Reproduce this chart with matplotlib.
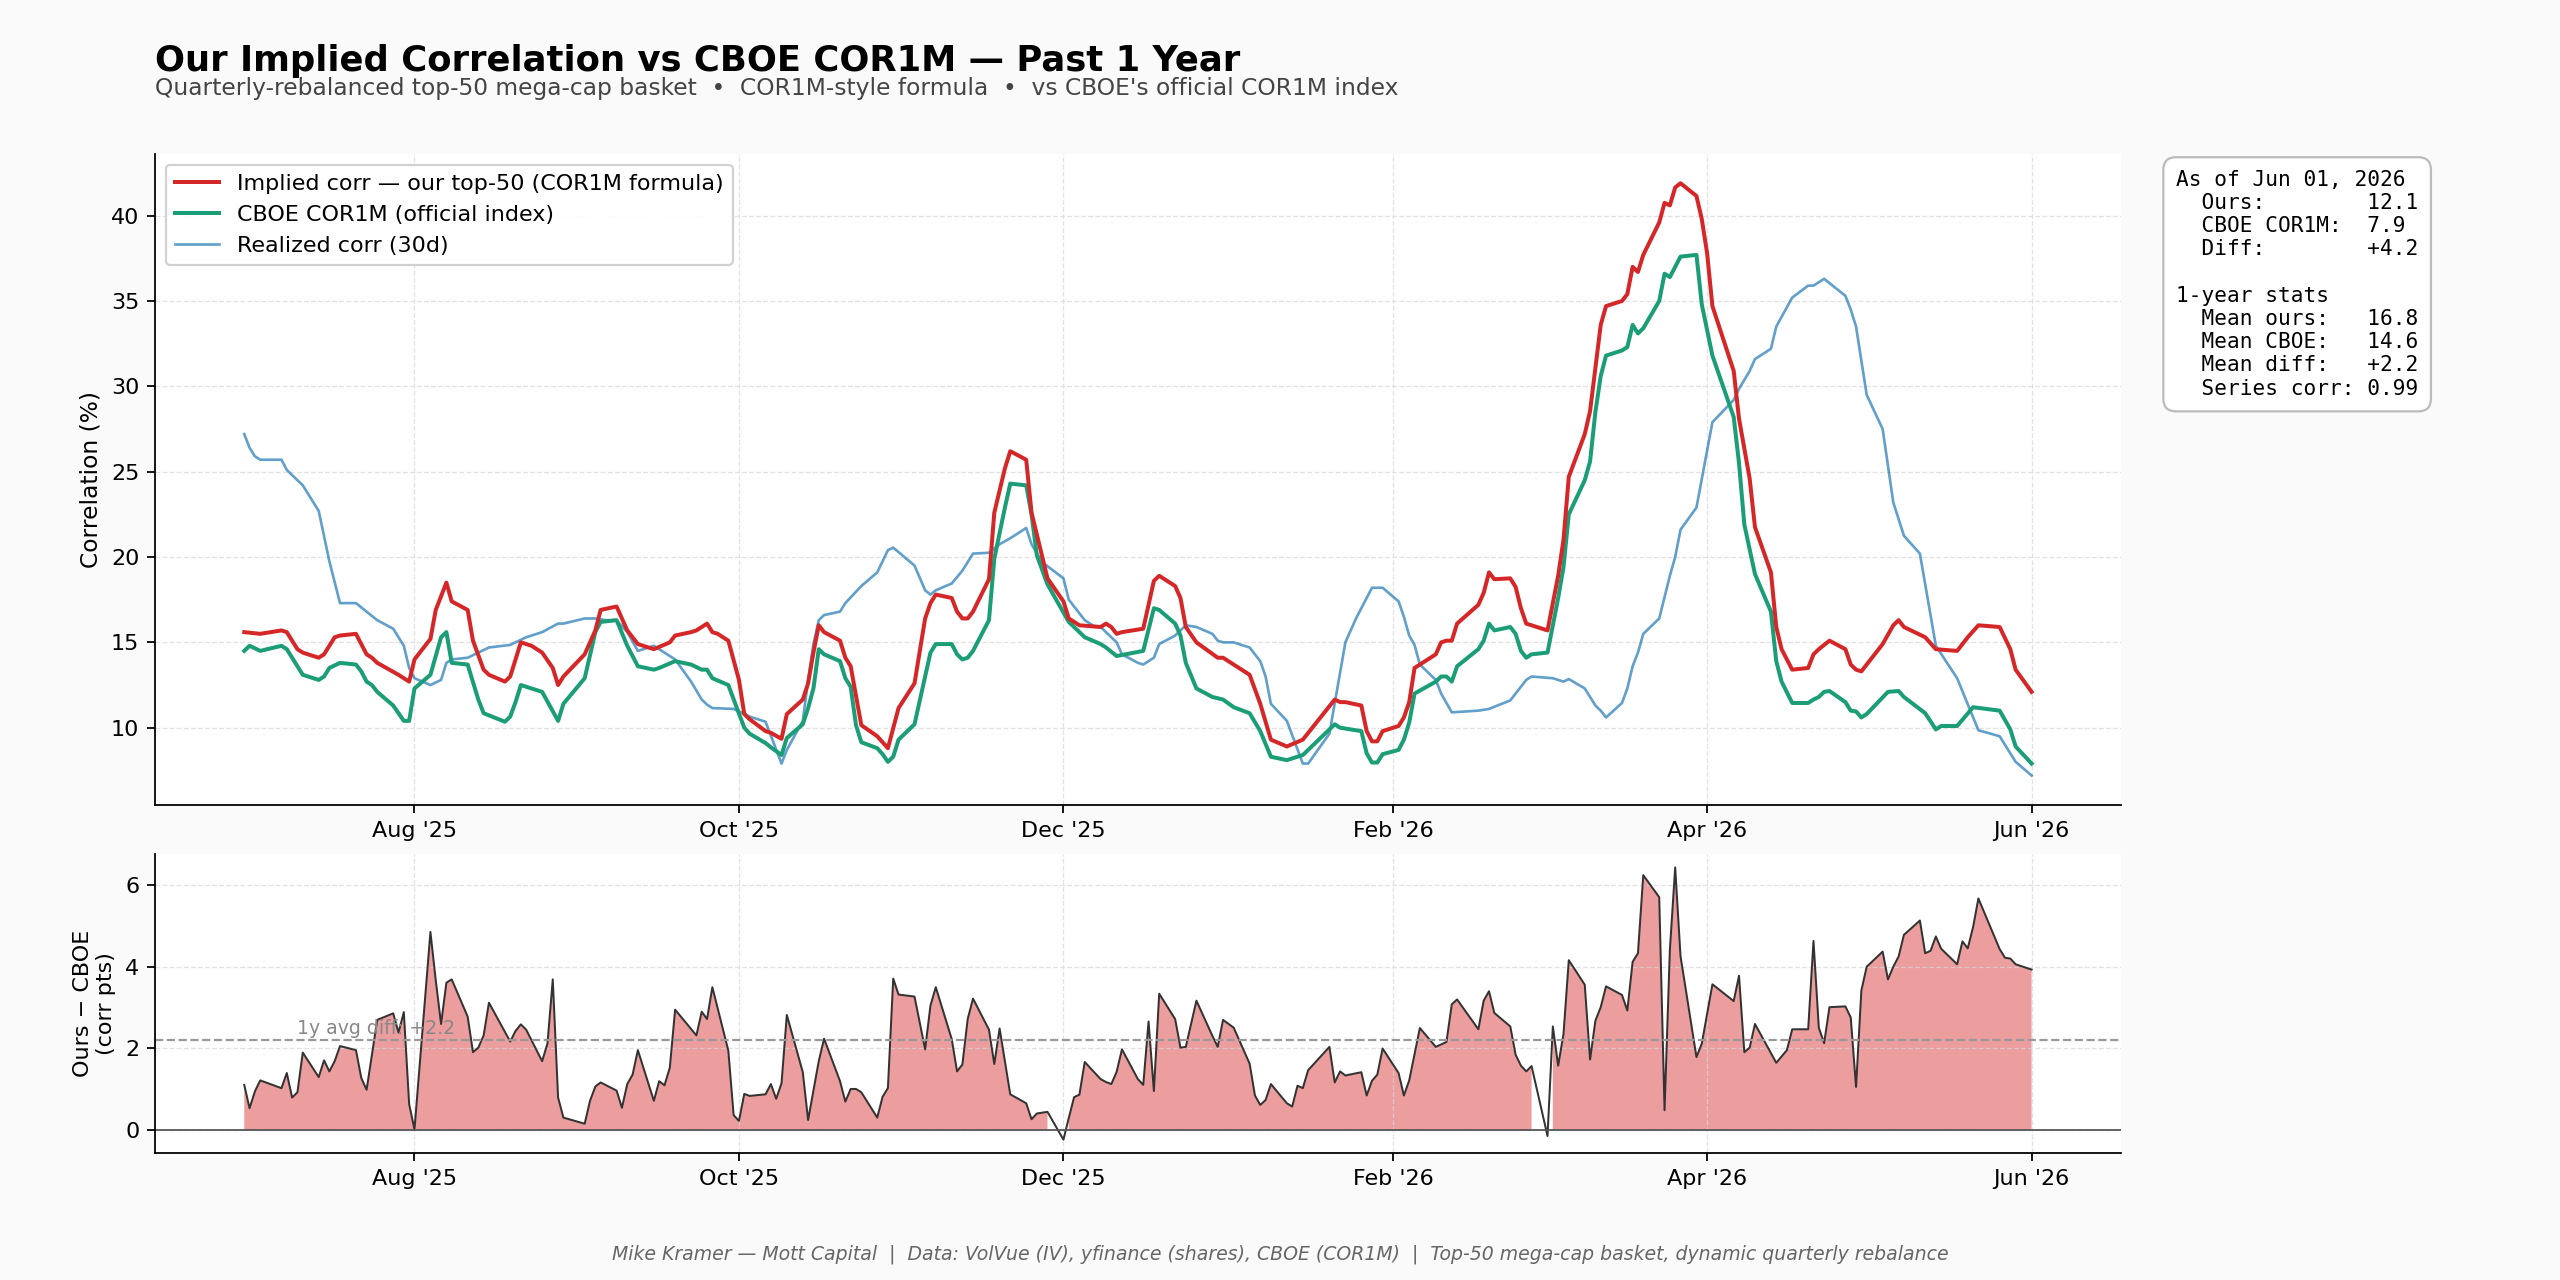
import matplotlib
matplotlib.use("Agg")
import matplotlib.pyplot as plt
import matplotlib.dates as mdates
from matplotlib.ticker import MultipleLocator
import numpy as np
import pandas as pd

# ---------------- data ----------------
START_DATE = "2025-06-30"   # day offsets below are calendar days after this date

ours_days = [0, 3, 7, 8, 10, 11, 14, 15, 17, 18, 21, 23, 24, 25, 29, 30, 31, 32, 35, 36,
             38, 39, 42, 43, 45, 46, 49, 50, 51, 52, 54, 56, 58, 59, 60, 64, 66, 67, 70, 72,
             74, 77, 80, 81, 84, 85, 87, 88, 89, 91, 93, 94, 95, 98, 99, 101, 102, 105, 106, 107,
             108, 109, 112, 113, 114, 116, 119, 120, 121, 123, 126, 128, 129, 130, 133, 134, 135, 136, 137, 140,
             141, 143, 144, 147, 148, 151, 154, 155, 157, 161, 162, 163, 164, 165, 169, 171, 172, 175, 176, 177,
             179, 183, 184, 189, 191, 193, 196, 199, 205, 206, 207, 210, 211, 212, 213, 214, 217, 218, 219, 220,
             224, 225, 226, 227, 228, 232, 233, 234, 235, 238, 239, 240, 241, 245, 247, 248, 249, 252, 253, 254,
             255, 256, 259, 260, 261, 262, 263, 266, 267, 268, 269, 270, 273, 274, 275, 276, 278, 280, 281, 283,
             284, 287, 288, 289, 291, 294, 295, 296, 298, 301, 302, 303, 304, 308, 310, 311, 312, 316, 318, 322,
             323, 324, 326, 330, 332, 333, 336]
ours_vals = [15.6, 15.5, 15.7, 15.6, 14.6, 14.4, 14.1, 14.3, 15.3, 15.4, 15.5, 14.3, 14.1, 13.8, 13.1, 12.9, 12.7, 14.0, 15.2, 16.9,
             18.5, 17.4, 16.9, 15.1, 13.4, 13.1, 12.7, 13.0, 14.0, 15.0, 14.8, 14.4, 13.5, 12.5, 13.0, 14.3, 15.7, 16.9, 17.1, 15.7,
             14.9, 14.6, 15.0, 15.4, 15.6, 15.7, 16.1, 15.6, 15.5, 15.1, 12.8, 10.8, 10.5, 9.8, 9.7, 9.35, 10.8, 11.65, 12.6, 14.4,
             16.0, 15.6, 15.1, 14.1, 13.6, 10.15, 9.5, 9.15, 8.8, 11.15, 12.6, 16.4, 17.3, 17.8, 17.6, 16.8, 16.4, 16.4, 16.8, 18.7,
             22.6, 25.2, 26.2, 25.7, 22.6, 18.75, 17.4, 16.4, 16.0, 15.9, 16.1, 15.9, 15.5, 15.6, 15.8, 18.6, 18.9, 18.3, 17.6, 15.9,
             15.0, 14.1, 14.1, 13.1, 11.4, 9.3, 8.9, 9.3, 11.65, 11.5, 11.5, 11.3, 9.8, 9.2, 9.2, 9.8, 10.1, 10.6, 11.5, 13.5,
             14.3, 15.0, 15.1, 15.1, 16.1, 17.2, 17.9, 19.1, 18.7, 18.75, 18.25, 17.0, 16.1, 15.7, 18.9, 21.0, 24.7, 27.2, 28.55, 31.1,
             33.6, 34.7, 35.0, 35.4, 37.0, 36.7, 37.7, 39.6, 40.75, 40.6, 41.65, 41.9, 41.15, 39.8, 37.8, 34.7, 32.8, 30.9, 28.1, 24.6,
             21.75, 19.1, 15.9, 14.6, 13.4, 13.5, 14.3, 14.6, 15.1, 14.6, 13.7, 13.4, 13.3, 14.9, 16.0, 16.3, 15.9, 15.3, 14.6, 14.5,
             14.9, 15.3, 16.0, 15.9, 14.6, 13.4, 12.1]

cboe_days = [0, 1, 3, 7, 8, 10, 11, 14, 15, 16, 18, 21, 22, 23, 24, 25, 28, 30, 31, 32,
             35, 37, 38, 39, 42, 44, 45, 49, 50, 51, 52, 56, 59, 60, 64, 66, 67, 70, 72, 74,
             77, 78, 81, 84, 86, 87, 88, 91, 94, 95, 98, 99, 101, 102, 105, 106, 107, 108, 109, 112,
             113, 114, 115, 116, 119, 120, 121, 122, 123, 126, 128, 129, 130, 133, 134, 135, 136, 137, 140, 141,
             143, 144, 147, 148, 149, 151, 155, 158, 161, 162, 164, 169, 171, 172, 175, 176, 177, 179, 182, 184,
             186, 189, 191, 193, 196, 199, 205, 206, 210, 211, 212, 213, 214, 217, 218, 219, 220, 224, 225, 226,
             227, 228, 232, 233, 234, 235, 238, 239, 240, 241, 242, 245, 247, 248, 249, 252, 253, 254, 255, 256,
             259, 260, 261, 262, 263, 266, 267, 268, 270, 273, 274, 276, 280, 281, 282, 284, 287, 288, 289, 291,
             294, 295, 296, 297, 298, 301, 302, 303, 304, 305, 309, 311, 312, 316, 318, 319, 322, 325, 330, 332,
             333, 336]
cboe_vals = [14.5, 14.8, 14.5, 14.8, 14.6, 13.6, 13.1, 12.8, 13.0, 13.5, 13.8, 13.7, 13.3, 12.7, 12.5, 12.1, 11.3, 10.4, 10.4, 12.3,
             13.1, 15.3, 15.6, 13.8, 13.7, 11.65, 10.85, 10.35, 10.65, 11.5, 12.5, 12.1, 10.4, 11.4, 12.9, 15.6, 16.2, 16.3, 14.8, 13.6,
             13.4, 13.5, 13.9, 13.7, 13.4, 13.4, 12.9, 12.5, 10.0, 9.65, 9.1, 8.85, 8.4, 9.4, 10.2, 11.15, 12.3, 14.6, 14.3, 13.9,
             12.9, 12.4, 10.15, 9.15, 8.8, 8.45, 8.0, 8.3, 9.3, 10.2, 13.0, 14.4, 14.9, 14.9, 14.3, 14.0, 14.1, 14.5, 16.3, 19.9,
             22.9, 24.3, 24.2, 22.5, 20.1, 18.4, 16.2, 15.3, 14.9, 14.7, 14.2, 14.5, 17.0, 16.9, 16.1, 15.4, 13.8, 12.3, 11.8, 11.65,
             11.2, 10.85, 9.8, 8.3, 8.1, 8.4, 10.2, 10.0, 9.8, 8.5, 7.96, 7.96, 8.45, 8.7, 9.3, 10.3, 12.0, 12.7, 13.0, 13.0,
             12.7, 13.6, 14.6, 15.1, 16.1, 15.7, 15.9, 15.5, 14.5, 14.1, 14.3, 14.4, 17.6, 19.4, 22.5, 24.5, 25.6, 28.5, 30.6, 31.8,
             32.1, 32.3, 33.6, 33.1, 33.4, 35.0, 36.6, 36.4, 37.6, 37.7, 34.8, 31.8, 28.2, 25.5, 21.9, 19.0, 16.8, 13.9, 12.7, 11.45,
             11.45, 11.65, 11.8, 12.1, 12.15, 11.5, 11.0, 10.95, 10.6, 10.8, 12.1, 12.15, 11.8, 10.85, 9.9, 10.1, 10.1, 11.2, 11.0, 9.9,
             8.9, 7.9]

real_days = [0, 1, 2, 3, 7, 8, 9, 10, 11, 14, 16, 18, 21, 23, 25, 28, 30, 31, 32, 35,
             37, 38, 39, 42, 46, 50, 53, 56, 59, 60, 64, 66, 68, 70, 72, 74, 77, 79, 81, 84,
             86, 87, 88, 92, 95, 98, 101, 102, 105, 106, 107, 108, 109, 112, 113, 116, 119, 121, 122, 126,
             128, 129, 130, 133, 135, 137, 140, 142, 144, 147, 148, 150, 154, 155, 158, 160, 161, 164, 165, 168,
             169, 171, 172, 175, 177, 179, 182, 183, 184, 186, 189, 191, 192, 193, 196, 199, 200, 204, 207, 209,
             212, 214, 217, 218, 219, 220, 221, 224, 225, 227, 232, 234, 238, 239, 241, 242, 246, 248, 249, 252,
             254, 255, 256, 259, 260, 261, 262, 263, 266, 268, 269, 270, 273, 276, 280, 281, 283, 284, 287, 288,
             291, 294, 295, 297, 301, 302, 303, 305, 308, 310, 312, 315, 318, 322, 326, 330, 333, 336]
real_vals = [27.2, 26.4, 25.9, 25.7, 25.7, 25.1, 24.8, 24.5, 24.2, 22.7, 19.75, 17.3, 17.3, 16.8, 16.3, 15.8, 14.8, 13.5, 12.9, 12.5,
             12.8, 13.8, 14.0, 14.1, 14.7, 14.85, 15.3, 15.6, 16.1, 16.1, 16.4, 16.4, 16.3, 16.3, 15.6, 14.5, 14.8, 14.4, 14.0, 12.7,
             11.65, 11.35, 11.15, 11.1, 10.65, 10.35, 7.9, 8.7, 10.4, 12.8, 14.9, 16.3, 16.6, 16.8, 17.3, 18.3, 19.1, 20.4, 20.55, 19.5,
             18.05, 17.8, 18.05, 18.45, 19.2, 20.2, 20.25, 20.75, 21.1, 21.7, 20.75, 19.7, 18.75, 17.5, 16.3, 15.9, 15.9, 15.0, 14.3, 13.8,
             13.7, 14.1, 14.9, 15.4, 16.0, 15.9, 15.5, 15.1, 15.0, 15.0, 14.7, 13.9, 13.0, 11.4, 10.4, 7.9, 7.9, 9.65, 15.0, 16.4,
             18.2, 18.2, 17.4, 16.5, 15.4, 14.85, 13.7, 12.8, 12.0, 10.9, 11.0, 11.1, 11.6, 12.0, 12.8, 13.0, 12.9, 12.7, 12.85, 12.3,
             11.3, 11.0, 10.6, 11.45, 12.3, 13.6, 14.4, 15.5, 16.4, 18.9, 20.0, 21.6, 22.9, 27.9, 29.2, 29.85, 30.9, 31.6, 32.2, 33.5,
             35.2, 35.9, 35.9, 36.3, 35.3, 34.5, 33.5, 29.5, 27.5, 23.2, 21.25, 20.2, 14.8, 12.9, 9.85, 9.5, 8.0, 7.2]

diff_days = [0, 1, 2, 3, 7, 8, 9, 10, 11, 14, 15, 16, 17, 18, 21, 22, 23, 25, 28, 29,
             30, 31, 32, 35, 36, 37, 38, 39, 42, 43, 44, 45, 46, 50, 51, 52, 53, 56, 57, 58,
             59, 60, 64, 65, 66, 67, 70, 71, 72, 73, 74, 77, 78, 79, 80, 81, 85, 86, 87, 88,
             91, 92, 93, 94, 95, 98, 99, 100, 101, 102, 105, 106, 108, 109, 112, 113, 114, 115, 116, 119,
             120, 121, 122, 123, 126, 128, 129, 130, 133, 134, 135, 136, 137, 140, 141, 142, 144, 147, 148, 149,
             151, 154, 155, 156, 157, 158, 161, 162, 163, 164, 165, 168, 169, 170, 171, 172, 175, 176, 177, 179,
             182, 183, 184, 186, 189, 190, 191, 192, 193, 196, 197, 198, 199, 200, 204, 205, 206, 207, 210, 211,
             212, 213, 214, 217, 218, 219, 221, 224, 225, 226, 227, 228, 232, 233, 234, 235, 238, 239, 240, 241,
             242, 245, 246, 247, 248, 249, 252, 253, 254, 255, 256, 259, 260, 261, 262, 263, 266, 267, 268, 269,
             270, 273, 274, 276, 280, 281, 282, 283, 284, 288, 290, 291, 294, 295, 296, 297, 298, 301, 302, 303,
             304, 305, 308, 309, 310, 311, 312, 315, 316, 317, 318, 319, 322, 323, 324, 325, 326, 330, 331, 332,
             333, 336]
diff_vals = [1.11, 0.54, 0.95, 1.22, 1.03, 1.40, 0.80, 0.93, 1.90, 1.30, 1.71, 1.44, 1.69, 2.06, 1.96, 1.28, 0.99, 2.70, 2.86, 2.39,
             2.89, 0.64, 0.02, 4.85, 3.67, 2.60, 3.61, 3.69, 2.78, 1.91, 2.02, 2.32, 3.12, 2.17, 2.43, 2.59, 2.46, 1.69, 2.12, 3.69,
             0.80, 0.31, 0.16, 0.72, 1.07, 1.17, 0.97, 0.55, 1.13, 1.36, 1.96, 0.72, 1.20, 1.10, 1.53, 2.95, 2.32, 2.90, 2.72, 3.50,
             1.95, 0.37, 0.23, 0.89, 0.84, 0.88, 1.13, 0.77, 1.15, 2.82, 1.42, 0.25, 1.69, 2.24, 1.20, 0.70, 1.01, 1.01, 0.93, 0.31,
             0.82, 1.03, 3.71, 3.32, 3.27, 1.98, 3.05, 3.50, 2.23, 1.44, 1.61, 2.72, 3.22, 2.46, 1.62, 2.49, 0.88, 0.66, 0.27, 0.41,
             0.45, -0.23, 0.30, 0.81, 0.87, 1.67, 1.25, 1.18, 1.13, 1.43, 1.98, 1.25, 1.11, 2.66, 0.96, 3.34, 2.72, 2.02, 2.04, 3.17,
             2.31, 2.04, 2.70, 2.51, 1.63, 0.85, 0.62, 0.74, 1.13, 0.66, 0.58, 1.09, 1.03, 1.47, 2.04, 1.17, 1.44, 1.34, 1.42, 0.85,
             1.21, 1.36, 2.00, 1.40, 0.85, 1.22, 2.50, 2.04, 2.10, 2.16, 3.08, 3.20, 2.47, 3.17, 3.40, 2.87, 2.54, 1.85, 1.58, 1.44,
             1.57, -0.14, 2.54, 1.58, 2.35, 4.16, 3.56, 1.73, 2.68, 3.01, 3.52, 3.31, 2.93, 4.12, 4.33, 6.24, 5.70, 0.49, 4.41, 6.43,
             4.26, 1.79, 2.12, 3.57, 3.16, 3.78, 1.91, 2.02, 2.60, 1.65, 1.96, 2.47, 2.47, 4.63, 2.51, 2.13, 3.01, 3.03, 2.76, 1.06,
             3.42, 4.00, 4.37, 3.69, 4.00, 4.25, 4.78, 5.13, 4.33, 4.39, 4.74, 4.44, 4.06, 4.62, 4.45, 4.97, 5.67, 4.43, 4.22, 4.20,
             4.06, 3.93]

# summary numbers shown in the side box / bottom panel
as_of_label = "Jun 01, 2026"
ours_now = 12.1
cboe_now = 7.9
diff_now = 4.2
mean_ours = 16.8
mean_cboe = 14.6
mean_diff = 2.2
series_corr = 0.99

series_labels = ["Implied corr \u2014 our top-50 (COR1M formula)",
                 "CBOE COR1M (official index)",
                 "Realized corr (30d)"]
title = "Our Implied Correlation vs CBOE COR1M \u2014 Past 1 Year"
subtitle = ("Quarterly-rebalanced top-50 mega-cap basket  \u2022  COR1M-style formula  \u2022  "
            "vs CBOE's official COR1M index")
footer = ("Mike Kramer \u2014 Mott Capital  |  Data: VolVue (IV), yfinance (shares), CBOE (COR1M)  |  "
          "Top-50 mega-cap basket, dynamic quarterly rebalance")


def to_dates(days):
    return pd.Timestamp(START_DATE) + pd.to_timedelta(np.asarray(days), unit="D")


# ---------------- figure ----------------
plt.rcParams["font.family"] = ["DejaVu Sans"]
RED = "#d62728"
GREEN = "#1b9e77"
BLUE = "#1f77b4"

fig = plt.figure(figsize=(16, 8), dpi=160, facecolor="#fafafa")
ax1 = fig.add_axes([0.0605, 0.371, 0.768, 0.509])
ax2 = fig.add_axes([0.0605, 0.099, 0.768, 0.234])

for ax in (ax1, ax2):
    ax.set_facecolor("white")
    ax.spines["top"].set_visible(False)
    ax.spines["right"].set_visible(False)
    ax.grid(True, linestyle="--", color="#d8d8d8", linewidth=0.6, alpha=0.7)
    ax.tick_params(labelsize=10)

ax1.plot(to_dates(ours_days), ours_vals, color=RED, lw=1.8, label=series_labels[0], zorder=4)
ax1.plot(to_dates(cboe_days), cboe_vals, color=GREEN, lw=1.8, label=series_labels[1], zorder=3)
ax1.plot(to_dates(real_days), real_vals, color=BLUE, lw=1.2, alpha=0.7, label=series_labels[2], zorder=2)
ax1.set_ylabel("Correlation (%)", fontsize=10.5)
ax1.yaxis.set_major_locator(MultipleLocator(5))
leg = ax1.legend(loc="upper left", fontsize=10, framealpha=0.9, edgecolor="#cccccc")

box = (f"As of {as_of_label}\n"
       f"  {'Ours:':<13}{ours_now:.1f}\n"
       f"  {'CBOE COR1M:':<13}{cboe_now:.1f}\n"
       f"  {'Diff:':<13}{diff_now:+.1f}\n"
       f"\n"
       f"1-year stats\n"
       f"  {'Mean ours:':<13}{mean_ours:.1f}\n"
       f"  {'Mean CBOE:':<13}{mean_cboe:.1f}\n"
       f"  {'Mean diff:':<13}{mean_diff:+.1f}\n"
       f"  {'Series corr:':<13}{series_corr:.2f}")
ax1.text(1.028, 0.975, box, transform=ax1.transAxes, va="top", ha="left",
         family="DejaVu Sans Mono", fontsize=9.5,
         bbox=dict(boxstyle="round,pad=0.6", facecolor="white", edgecolor="#bbbbbb"))

dd = to_dates(diff_days)
dv = np.asarray(diff_vals)
ax2.fill_between(dd, dv, 0, where=dv >= 0, color=RED, alpha=0.45, linewidth=0)
ax2.plot(dd, dv, color="#333333", lw=0.9)
ax2.axhline(0, color="#555555", lw=0.8)
ax2.axhline(mean_diff, color="#999999", lw=1.0, linestyle="--")
ax2.text(pd.Timestamp(START_DATE) + pd.Timedelta(days=10), mean_diff + 0.05,
         f"1y avg diff: {mean_diff:+.1f}", fontsize=8.5, color="#888888", va="bottom", ha="left")
ax2.set_ylabel("Ours \u2212 CBOE\n(corr pts)", fontsize=10)
ax2.yaxis.set_major_locator(MultipleLocator(2))

ax2.set_xlim(ax1.get_xlim())
for ax in (ax1, ax2):
    ax.xaxis.set_major_locator(mdates.MonthLocator(bymonth=[2, 4, 6, 8, 10, 12]))
    ax.xaxis.set_major_formatter(mdates.DateFormatter("%b '%y"))

fig.text(0.0605, 0.9445, title, fontsize=15.9, fontweight="bold", va="baseline")
fig.text(0.0605, 0.9258, subtitle, fontsize=10.5, color="#444444", va="baseline")
fig.text(0.5, 0.02, footer, fontsize=8.5, style="italic", color="#666666", ha="center", va="center")

fig.savefig("out.png", dpi=160, facecolor=fig.get_facecolor())
